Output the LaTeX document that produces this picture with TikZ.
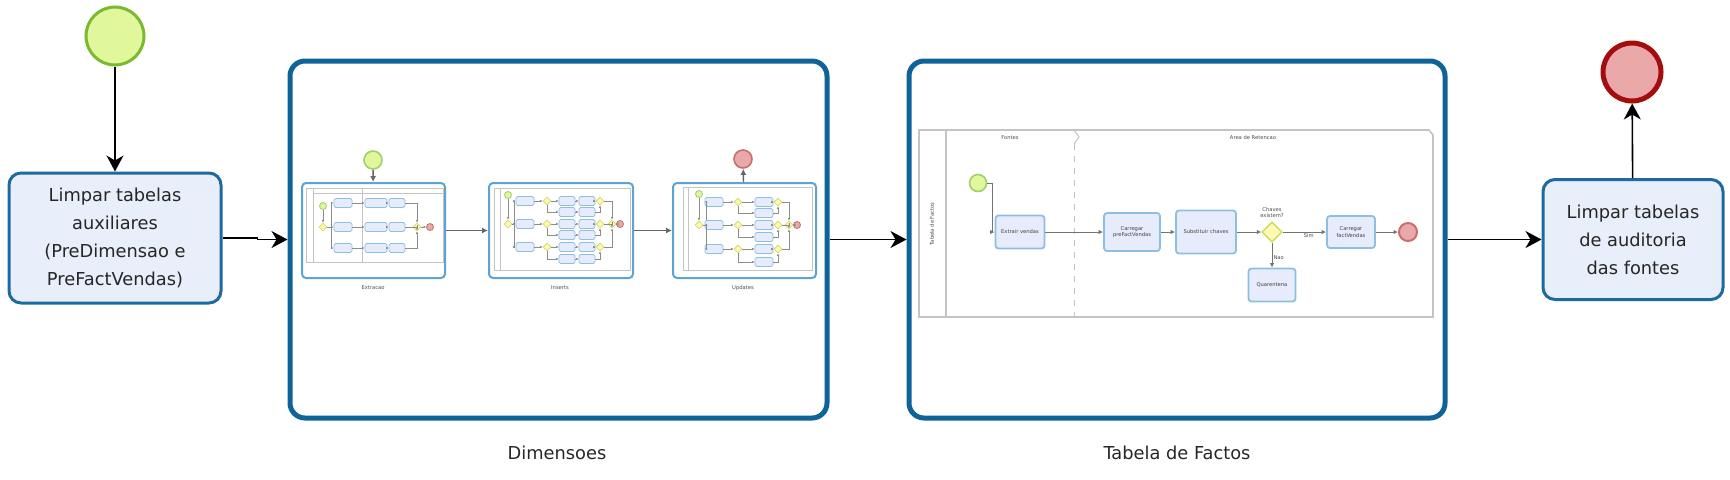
\documentclass[tikz,border=0pt]{standalone}
\usepackage{fontspec}
\setmainfont{DejaVu Sans}
\usetikzlibrary{arrows.meta,shapes.geometric,positioning}
\definecolor{taskfill}{HTML}{E9EEFB}
\definecolor{taskline}{HTML}{1D6B9E}
\definecolor{frameline}{HTML}{0E6399}
\definecolor{startfill}{HTML}{E1F79B}
\definecolor{startline}{HTML}{7AB930}
\definecolor{endfill}{HTML}{EBA8A9}
\definecolor{endline}{HTML}{A30D0D}
\definecolor{minitaskfill}{HTML}{E6ECFB}
\definecolor{minitaskline}{HTML}{8EBFE2}
\definecolor{minigwfill}{HTML}{FAFAB4}
\definecolor{minigwline}{HTML}{D9D96A}
\definecolor{miniboxline}{HTML}{5DA4D2}
\definecolor{poolline}{HTML}{C4C4C4}
\begin{document}
\begin{tikzpicture}[x=0.5pt,y=-0.5pt]
\tikzset{
  task/.style={draw=taskline, fill=taskfill, line width=1.5pt, rounded corners=6pt,
    align=center, text=black!85, font=\fontsize{8.9}{14}\selectfont, inner sep=0pt},
  subproc/.style={draw=frameline, fill=white, line width=2.5pt, rounded corners=7.5pt},
  startev/.style={circle, draw=startline, fill=startfill, line width=1.5pt, minimum size=29pt, inner sep=0pt},
  endev/.style={circle, draw=endline, fill=endfill, line width=2.5pt, minimum size=29pt, inner sep=0pt},
  flow/.style={line width=0.8pt, -{Stealth[length=8pt,width=8.5pt,inset=2.5pt]}},
  lbl/.style={font=\fontsize{8.9}{11}\selectfont, text=black!85},
  % thumbnails
  minibox/.style={draw=miniboxline, fill=white, line width=1pt, rounded corners=2pt},
  minilbl/.style={font=\fontsize{2.6}{3.2}\selectfont, text=black!70, inner sep=0.5pt},
  minitask/.style={draw=minitaskline, fill=minitaskfill, line width=0.4pt, rounded corners=0.8pt,
    minimum width=9pt, minimum height=4.5pt, inner sep=0pt},
  minigw/.style={diamond, draw=minigwline, fill=minigwfill, line width=0.4pt, minimum size=4pt, inner sep=0pt},
  ministart/.style={circle, draw=startline!70, fill=startfill, line width=0.4pt, minimum size=3.5pt, inner sep=0pt},
  miniend/.style={circle, draw=endline!60, fill=endfill, line width=0.4pt, minimum size=3.5pt, inner sep=0pt},
  miniflow/.style={draw=black!45, line width=0.3pt, -{Latex[length=1.2pt,width=1.2pt]}},
  dimflow/.style={draw=black!60, line width=0.7pt, -{Latex[length=3pt,width=3pt]}},
  pool/.style={draw=poolline, line width=0.5pt},
  factask/.style={minitask, line width=0.9pt, rounded corners=1.5pt, align=center,
    font=\fontsize{2.6}{3.2}\selectfont, text=black!75},
  facflow/.style={draw=black!55, line width=0.5pt, -{Latex[length=2.2pt,width=2.2pt]}}
}
\useasboundingbox (0,0) rectangle (1730,479);
% main process
\node[startev] (start) at (115,36) {};
\node[task, minimum width=106pt, minimum height=65pt] (clrpre) at (115,238)
  {Limpar tabelas\\auxiliares\\(PreDimensao e\\PreFactVendas)};
\node[subproc, minimum width=268.5pt, minimum height=178.5pt] (dims) at (558.5,239.5) {};
\node[lbl] (dimslbl) at (557,453) {Dimensoes};
\node[subproc, minimum width=268pt, minimum height=178.5pt] (facts) at (1177,239.5) {};
\node[lbl] (factslbl) at (1177,453) {Tabela de Factos};
\node[task, minimum width=90pt, minimum height=60pt] (clraud) at (1633,239.5)
  {Limpar tabelas\\de auditoria\\das fontes};
\node[endev] (end) at (1632,72) {};
\draw[flow] (start) -- (clrpre);
\draw[flow] (clrpre.east) -- ++(35,0) |- (dims.west);
\draw[flow] (dims) -- (facts);
\draw[flow] (facts) -- (clraud);
\draw[flow] (clraud) -- (end);

% Dimensoes: the three thumbnails
\node[minibox, minimum width=71.5pt, minimum height=47.5pt] (extr) at (373.5,230.5) {};
\node[minibox, minimum width=72pt, minimum height=47.5pt] (ins) at (561,230.5) {};
\node[minibox, minimum width=71.5pt, minimum height=47.5pt] (upd) at (744.5,230.5) {};
\node[minilbl] (extrlbl) at (373,288) {Extracao};
\node[minilbl] (inslbl) at (560,288) {Inserts};
\node[minilbl] (updlbl) at (743,288) {Updates};
\node[ministart, minimum size=9pt, line width=0.8pt] (dstart) at (373,160) {};
\node[miniend, minimum size=9pt, line width=0.8pt] (dend) at (743,159) {};
\draw[dimflow] (dstart) -- (extr);
\draw[dimflow] (extr) -- (ins);
\draw[dimflow] (ins) -- (upd);
\draw[dimflow] (upd) -- (dend);

% Extracao
\draw[pool] (306,188) rectangle (443,262);
\draw[pool] (313,188) -- (313,262) (362,188) -- (362,262) (313,193) -- (443,193);
\node[ministart] (xs) at (323,206) {};
\node[minigw] (xg) at (323,227) {};
\node[minigw] (xm) at (417,227) {};
\node[miniend] (xe) at (430,227) {};
\draw[miniflow] (xs) -- (xg);
\draw[miniflow] (xm) -- (xe);
\foreach \r/\y in {1/203,2/227,3/248} {
  \node[minitask] (xa\r) at (343,\y) {};
  \node[minitask, minimum width=11pt] (xb\r) at (376,\y) {};
  \node[minitask, minimum width=8pt] (xc\r) at (397,\y) {};
  \draw[miniflow] (xg) -- (331,227) |- (xa\r);
  \draw[miniflow] (xa\r) -- (xb\r);
  \draw[miniflow] (xb\r) -- (xc\r);
  \draw[miniflow] (xc\r) -| (xm);
}

% Inserts
\draw[pool] (494,188) rectangle (630,270);
\draw[pool] (500,188) -- (500,270);
\node[ministart] (is) at (508,195) {};
\node[minigw] (ig) at (508,224) {};
\node[minigw] (ifg) at (612,224) {};
\node[miniend] (ie) at (620,224) {};
\draw[miniflow] (is) -- (ig);
\draw[miniflow] (ifg) -- (ie);
\foreach \r/\y/\z in {1/201/212,2/224/235,3/247/259} {
  \node[minitask] (ia\r) at (525,\y) {};
  \node[minigw] (ig\r) at (547,\y) {};
  \node[minitask, minimum width=8pt] (ib\r) at (567,\y) {};
  \node[minitask, minimum width=8pt] (ic\r) at (587,\y) {};
  \node[minitask, minimum width=8pt] (id\r) at (567,\z) {};
  \node[minitask, minimum width=8pt] (iq\r) at (587,\z) {};
  \node[minigw] (im\r) at (600,\y) {};
  \draw[miniflow] (ig) -- (514,224) |- (ia\r);
  \draw[miniflow] (ia\r) -- (ig\r);
  \draw[miniflow] (ig\r) -- (ib\r);
  \draw[miniflow] (ig\r) |- (id\r);
  \draw[miniflow] (ib\r) -- (ic\r);
  \draw[miniflow] (id\r) -- (iq\r);
  \draw[miniflow] (ic\r) -- (im\r);
  \draw[miniflow] (iq\r) -| (im\r);
  \draw[miniflow] (im\r) -| (ifg);
}

% Updates
\draw[pool] (683,187) rectangle (812,270);
\draw[pool] (688,187) -- (688,270);
\node[ministart] (us) at (699,194) {};
\node[minigw] (ug) at (699,225) {};
\node[minigw] (ufg) at (789,225) {};
\node[miniend] (ue) at (797,225) {};
\draw[miniflow] (us) -- (ug);
\draw[miniflow] (ufg) -- (ue);
\foreach \r/\y/\z in {1/202/213,2/225/237,3/249/262} {
  \node[minitask] (ua\r) at (714,\y) {};
  \node[minigw] (ug\r) at (738,\y) {};
  \node[minitask] (ub\r) at (764,\y) {};
  \node[minitask] (uc\r) at (764,\z) {};
  \node[minigw] (um\r) at (778,\y) {};
  \draw[miniflow] (ug) -- (706,225) |- (ua\r);
  \draw[miniflow] (ua\r) -- (ug\r);
  \draw[miniflow] (ug\r) -- (ub\r);
  \draw[miniflow] (ug\r) |- (uc\r);
  \draw[miniflow] (ub\r) -- (um\r);
  \draw[miniflow] (uc\r) -| (um\r);
  \draw[miniflow] (um\r) -| (ufg);
}

% Tabela de Factos: pool with two phases
\draw[pool, line width=0.8pt] (919,130) -- (1429,130) -- (1433,135) -- (1433,317) -- (919,317) -- cycle;
\draw[pool, line width=0.8pt] (946,130) -- (946,317);
\draw[pool] (1074,130) -- (1079,137) -- (1074,144);
\draw[pool, dashed] (1074,144) -- (1074,317);
\node[minilbl] (fontes) at (1010,138) {Fontes};
\node[minilbl] (retencao) at (1253,138) {Area de Retencao};
\node[minilbl, rotate=90] (factlane) at (932,224) {Tabela de Factos};
\node[ministart, minimum size=8.5pt, line width=0.8pt] (fstart) at (978,183) {};
\node[factask, minimum width=24.5pt, minimum height=16.5pt] (fextr) at (1020,232) {Extrair vendas};
\node[factask, minimum width=28pt, minimum height=19pt] (fpre) at (1132,232) {Carregar\\preFactVendas};
\node[factask, minimum width=30pt, minimum height=21.5pt] (fsub) at (1206,232) {Substituir chaves};
\node[minigw, minimum size=10pt, line width=0.8pt] (fgw) at (1272,232) {};
\node[minilbl, align=center, above=1pt of fgw] (fgwlbl) {Chaves\\existem?};
\node[factask, minimum width=24pt, minimum height=16pt] (fload) at (1351,232) {Carregar\\factVendas};
\node[miniend, minimum size=9pt, line width=1pt] (fend) at (1408,232) {};
\node[factask, minimum width=23.5pt, minimum height=16.5pt] (fquar) at (1272,285) {Quarentena};
\draw[facflow] (fstart.east) -- ++(5,0) |- (fextr);
\draw[facflow] (fextr) -- (fpre);
\draw[facflow] (fpre) -- (fsub);
\draw[facflow] (fsub) -- (fgw);
\draw[facflow] (fgw) -- node[minilbl, below, pos=0.6] {Sim} (fload);
\draw[facflow] (fload) -- (fend);
\draw[facflow] (fgw) -- node[minilbl, right, pos=0.6] {Nao} (fquar);
\end{tikzpicture}
\end{document}
